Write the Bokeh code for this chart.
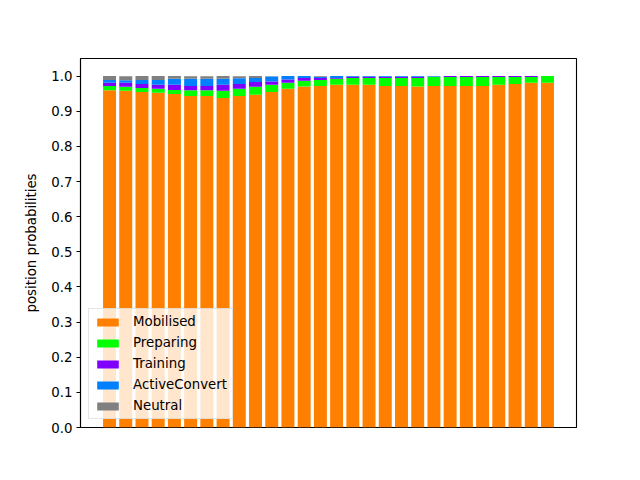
from bokeh.plotting import figure
from bokeh.models import ColumnDataSource, Range1d, FixedTicker, NumeralTickFormatter
from bokeh.embed import file_html
from bokeh.resources import INLINE

positions = list(range(28))
mobilised = [0.960, 0.958, 0.9545, 0.9527, 0.949, 0.943, 0.943, 0.9375, 0.943, 0.947,
             0.9545, 0.964, 0.970, 0.9716, 0.9754, 0.9754, 0.9754, 0.9716, 0.9716, 0.970,
             0.9716, 0.9716, 0.9716, 0.9716, 0.9754, 0.9773, 0.9811, 0.9811]
preparing = [0.0116, 0.0114, 0.0114, 0.0113, 0.0113, 0.017, 0.017, 0.0208, 0.0208, 0.0227,
             0.0209, 0.0171, 0.017, 0.017, 0.017, 0.0189, 0.0189, 0.0227, 0.0227, 0.0246,
             0.0265, 0.0256, 0.0256, 0.0256, 0.0218, 0.0199, 0.0161, 0.0189]
training = [0.0095, 0.0114, 0.0114, 0.0114, 0.0152, 0.0114, 0.0114, 0.0171, 0.0133, 0.0133,
            0.0094, 0.0094, 0.0076, 0.0057, 0.0019, 0.0038, 0.0038, 0.0038, 0.0038, 0.0038,
            0.0005, 0.0028, 0.0028, 0.0028, 0.0028, 0.0028, 0.0028, 0.0]
active_convert = [0.0075, 0.0075, 0.0113, 0.0132, 0.017, 0.0208, 0.0208, 0.017, 0.017, 0.0113,
                  0.014, 0.0095, 0.0057, 0.004, 0.0057, 0.002, 0.002, 0.002, 0.002, 0.002,
                  0.0019, 0.0, 0.0, 0.0, 0.0, 0.0, 0.0, 0.0]
neutral = [0.0114, 0.0114, 0.0114, 0.0114, 0.0076, 0.0076, 0.0076, 0.0076, 0.0057, 0.0057,
           0.001, 0.0, 0.0, 0.0017, 0.0, 0.0, 0.0, 0.0, 0.0, 0.0,
           0.0, 0.0, 0.0, 0.0, 0.0, 0.0, 0.0, 0.0]
series_names = ["Mobilised", "Preparing", "Training", "ActiveConvert", "Neutral"]
series_colors = ["#ff8000", "#00ff00", "#8000ff", "#0080ff", "#808080"]
y_ticks = [0.0, 0.1, 0.2, 0.3, 0.4, 0.5, 0.6, 0.7, 0.8, 0.9, 1.0]

source = ColumnDataSource(dict(x=positions, Mobilised=mobilised, Preparing=preparing,
                               Training=training, ActiveConvert=active_convert,
                               Neutral=neutral))

n = len(positions)
span = (n - 1) + 0.8
pad = 0.05 * span
p = figure(width=624, height=464, output_backend="svg", toolbar_location=None,
           x_range=Range1d(-0.4 - pad, n - 1 + 0.4 + pad), y_range=Range1d(0, 1.05),
           min_border_left=80, min_border_right=48, min_border_top=58, min_border_bottom=37)

renderers = p.vbar_stack(series_names, x="x", width=0.8, color=series_colors,
                         line_color=None, source=source, legend_label=series_names)

p.xgrid.visible = False
p.ygrid.visible = False
p.xaxis.visible = False
p.outline_line_color = "black"
p.outline_line_width = 1.1
p.background_fill_color = "white"
p.border_fill_color = "white"

yax = p.yaxis[0]
yax.ticker = FixedTicker(ticks=y_ticks)
yax.formatter = NumeralTickFormatter(format="0.0")
yax.minor_tick_line_color = None
yax.major_tick_out = 4
yax.major_tick_in = 0
yax.major_tick_line_width = 1.1
yax.axis_line_width = 1.1
yax.major_label_standoff = 4
yax.major_label_text_font = "DejaVu Sans"
yax.major_label_text_font_size = "10pt"
yax.major_label_text_color = "black"
yax.axis_label = "position probabilities"
yax.axis_label_text_font = "DejaVu Sans"
yax.axis_label_text_font_size = "10pt"
yax.axis_label_text_font_style = "normal"
yax.axis_label_text_color = "black"
yax.axis_label_standoff = 9

leg = p.legend[0]
leg.location = "bottom_left"
leg.margin = 8
leg.padding = 5
leg.spacing = 6
leg.glyph_width = 27
leg.glyph_height = 10
leg.label_height = 15
leg.label_standoff = 12
leg.label_text_font = "DejaVu Sans"
leg.label_text_font_size = "10pt"
leg.label_text_color = "black"
leg.background_fill_color = "white"
leg.background_fill_alpha = 0.8
leg.border_line_color = "#cccccc"
leg.border_line_width = 1

open("out.html", "w").write(file_html(p, INLINE))
